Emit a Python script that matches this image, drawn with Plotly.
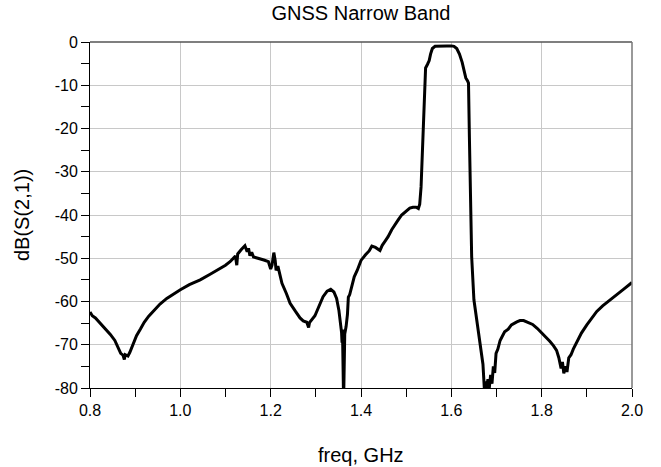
import plotly.graph_objects as go

# ---- data ----
freq_ghz = [
    0.800, 0.805, 0.812, 0.822, 0.835, 0.845, 0.855, 0.862, 0.868, 0.873, 0.876, 0.878, 0.884, 0.888,
    0.895, 0.903, 0.912, 0.920, 0.930, 0.940, 0.955, 0.970, 0.985, 1.000, 1.020, 1.044, 1.066, 1.088,
    1.100, 1.110, 1.117, 1.122, 1.125, 1.127, 1.135, 1.143, 1.148, 1.151, 1.154, 1.158, 1.162, 1.173,
    1.185, 1.195, 1.200, 1.203, 1.207, 1.210, 1.212, 1.216, 1.220, 1.225, 1.235, 1.243, 1.255, 1.265,
    1.272, 1.280, 1.284, 1.286, 1.298, 1.308, 1.316, 1.325, 1.333, 1.340, 1.346, 1.351, 1.354, 1.357,
    1.358, 1.359, 1.361, 1.362, 1.364, 1.367, 1.370, 1.372, 1.375, 1.380, 1.385, 1.392, 1.400, 1.410,
    1.418, 1.424, 1.432, 1.442, 1.447, 1.453, 1.460, 1.468, 1.475, 1.482, 1.490, 1.500, 1.508, 1.515,
    1.522, 1.527, 1.530, 1.533, 1.535, 1.537, 1.539, 1.541, 1.543, 1.547, 1.551, 1.554, 1.558, 1.564,
    1.575, 1.590, 1.600, 1.606, 1.612, 1.618, 1.624, 1.628, 1.632, 1.636, 1.638, 1.640, 1.643, 1.645,
    1.650, 1.655, 1.659, 1.663, 1.666, 1.670, 1.673, 1.676, 1.678, 1.681, 1.684, 1.687, 1.690, 1.693,
    1.696, 1.699, 1.703, 1.708, 1.712, 1.718, 1.726, 1.733, 1.745, 1.752, 1.760, 1.770, 1.780, 1.790,
    1.800, 1.810, 1.818, 1.826, 1.833, 1.838, 1.843, 1.846, 1.849, 1.853, 1.856, 1.860, 1.865, 1.870,
    1.878, 1.888, 1.900, 1.912, 1.922, 1.935, 1.951, 1.965, 1.981, 2.000,
]
s21_db = [
    -62.4, -63.3, -63.8, -65.0, -66.3, -67.6, -69.0, -70.8, -72.0, -72.4, -73.4, -72.3, -72.6, -71.8,
    -70.0, -67.9, -66.3, -64.8, -63.4, -62.2, -60.6, -59.3, -58.2, -57.3, -56.1, -55.0, -53.7, -52.4,
    -51.6, -50.8, -50.1, -49.5, -51.6, -49.0, -48.0, -47.1, -48.5, -47.7, -49.4, -48.6, -49.7, -50.0,
    -50.4, -50.8, -52.5, -51.6, -48.7, -50.5, -52.8, -51.8, -53.8, -55.8, -58.2, -60.4, -62.3, -63.8,
    -64.5, -64.8, -66.0, -64.9, -63.3, -61.0, -58.9, -57.6, -57.2, -57.8, -59.3, -62.0, -64.5, -67.2,
    -69.5, -66.5, -80.0, -80.0, -67.5, -65.8, -63.0, -59.0, -58.4, -56.0, -54.3, -52.7, -50.5, -49.2,
    -48.3, -47.2, -47.5, -48.2, -47.0, -46.1, -45.0, -43.4, -42.2, -41.2, -40.0, -39.0, -38.4, -38.2,
    -38.2, -38.5, -37.5, -33.5, -28.0, -20.0, -13.0, -8.5, -6.0, -5.2, -4.3, -2.8, -1.5, -1.0,
    -0.9, -0.9, -0.9, -1.0, -1.5, -2.8, -4.7, -6.5, -8.3, -9.0, -9.5, -22.0, -40.0, -49.6,
    -59.6, -63.5, -66.0, -69.0, -71.5, -74.5, -80.0, -78.5, -80.0, -78.0, -80.0, -77.0, -79.0, -75.0,
    -76.5, -72.0, -71.0, -69.0, -68.2, -67.0, -66.4, -65.4, -64.7, -64.4, -64.4, -64.8, -65.3, -66.2,
    -67.2, -68.2, -69.2, -70.2, -71.3, -73.0, -75.5, -74.0, -76.6, -75.0, -76.3, -73.0, -72.3, -71.0,
    -69.4, -67.3, -65.4, -63.6, -62.3, -61.0, -59.6, -58.4, -57.2, -55.6,
]

x_tick_vals = [0.8, 1.0, 1.2, 1.4, 1.6, 1.8, 2.0]
x_tick_text = ["0.8", "1.0", "1.2", "1.4", "1.6", "1.8", "2.0"]
y_tick_vals = [0, -10, -20, -30, -40, -50, -60, -70, -80]
y_tick_text = ["0", "-10", "-20", "-30", "-40", "-50", "-60", "-70", "-80"]

title_text = "GNSS Narrow Band"
x_title = "freq, GHz"
y_title = "dB(S(2,1))"

FONT = "Liberation Sans, Arial, sans-serif"

fig = go.Figure()
fig.add_trace(go.Scatter(
    x=freq_ghz, y=s21_db, mode="lines",
    line=dict(color="black", width=3),
    showlegend=False, hoverinfo="skip",
))

fig.update_layout(
    width=661, height=467,
    margin=dict(l=90, r=29, t=42, b=79),
    paper_bgcolor="white", plot_bgcolor="white",
    font=dict(family=FONT, color="black", size=16),
    title=dict(text=title_text, x=0.5, xref="paper", xanchor="center",
               y=1 - 13 / 467, yref="container", yanchor="middle",
               font=dict(family=FONT, size=20, color="black")),
    showlegend=False,
)

fig.update_xaxes(
    range=[0.8, 2.0], tickvals=x_tick_vals, ticktext=x_tick_text,
    showgrid=True, gridcolor="#c8c8c8", gridwidth=1,
    showline=True, linecolor="black", linewidth=1,
    ticks="outside", ticklen=8, tickcolor="black", tickwidth=1,
    minor=dict(dtick=0.1, tick0=0.8, ticks="outside", ticklen=8, tickcolor="black", showgrid=False),
    tickfont=dict(family=FONT, size=16, color="black"),
    zeroline=False,
)
fig.update_yaxes(
    range=[-80, 0], tickvals=y_tick_vals, ticktext=y_tick_text,
    showgrid=True, gridcolor="#c8c8c8", gridwidth=1,
    showline=True, linecolor="black", linewidth=1,
    ticks="outside", ticklen=8, tickcolor="black", tickwidth=1,
    minor=dict(dtick=5, tick0=0, ticks="outside", ticklen=8, tickcolor="black", showgrid=False),
    tickfont=dict(family=FONT, size=16, color="black"),
    zeroline=False,
)

# top and right frame lines
fig.add_shape(type="line", xref="paper", yref="paper", x0=0, x1=1, y0=1, y1=1,
              line=dict(color="#555555", width=1.5))
fig.add_shape(type="line", xref="paper", yref="paper", x0=1, x1=1, y0=0, y1=1,
              line=dict(color="#777777", width=1.5))

# axis titles
fig.add_annotation(text=x_title, xref="paper", yref="paper", x=0.5, y=-(455 - 388) / 346,
                   xanchor="center", yanchor="middle", showarrow=False,
                   font=dict(family=FONT, size=20, color="black"))
fig.add_annotation(text=y_title, xref="paper", yref="paper", x=-(90 - 22) / 542, y=0.5,
                   xanchor="center", yanchor="middle", showarrow=False, textangle=-90,
                   font=dict(family=FONT, size=20, color="black"))

fig.write_html("out.html")
